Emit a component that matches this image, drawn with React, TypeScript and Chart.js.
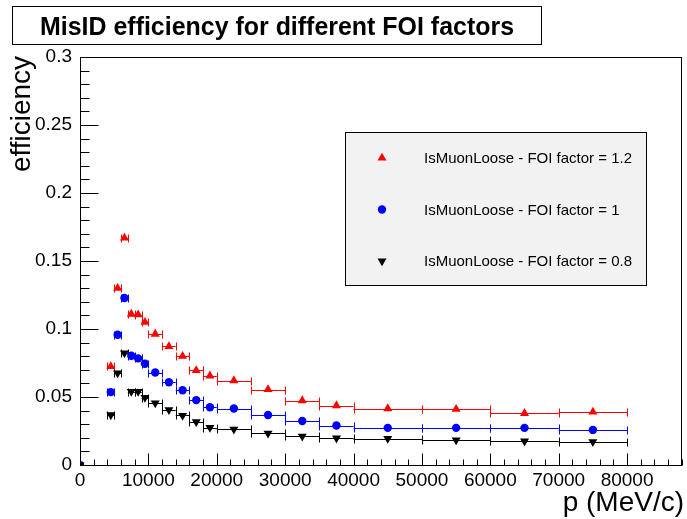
import React, { useEffect, useRef } from "react";
import { Chart, registerables } from "chart.js";

Chart.register(...registerables);

// ---- data ----
const pCenters = [0, 4500, 5500, 6500, 7500, 8500, 9500, 11000, 13000, 15000, 17000, 19000, 22500, 27500, 32500, 37500, 45000, 55000, 65000, 75000];
const pLow = [null, 4000, 5000, 6000, 7000, 8000, 9000, 10000, 12000, 14000, 16000, 18000, 20000, 25000, 30000, 35000, 40000, 50000, 60000, 70000];
const pHigh = [null, 5000, 6000, 7000, 8000, 9000, 10000, 12000, 14000, 16000, 18000, 20000, 25000, 30000, 35000, 40000, 50000, 60000, 70000, 80000];

const effFoi12 = [0, 0.0725, 0.130, 0.167, 0.111, 0.1105, 0.105, 0.0963, 0.0872, 0.0800, 0.0695, 0.0656, 0.0621, 0.0555, 0.0474, 0.0437, 0.0415, 0.041, 0.038, 0.039];
const effFoi10 = [0, 0.0536, 0.0958, 0.1228, 0.0803, 0.0784, 0.0744, 0.068, 0.0609, 0.055, 0.0477, 0.0425, 0.0415, 0.0368, 0.0324, 0.029, 0.0273, 0.0273, 0.0273, 0.0258];
const effFoi08 = [0, 0.0368, 0.0676, 0.0823, 0.054, 0.054, 0.0496, 0.0455, 0.0405, 0.0364, 0.0317, 0.0275, 0.0262, 0.0233, 0.0211, 0.0197, 0.0194, 0.0184, 0.0175, 0.017];

const xTickValues = [0, 10000, 20000, 30000, 40000, 50000, 60000, 70000, 80000];
const xTickLabels = ["0", "10000", "20000", "30000", "40000", "50000", "60000", "70000", "80000"];
const yTickValues = [0, 0.05, 0.1, 0.15, 0.2, 0.25, 0.3];
const yTickLabels = ["0", "0.05", "0.1", "0.15", "0.2", "0.25", "0.3"];

const seriesLabels = ["IsMuonLoose - FOI factor = 1.2", "IsMuonLoose - FOI factor = 1", "IsMuonLoose - FOI factor = 0.8"];
const seriesColors = ["#ff0000", "#0000ff", "#000000"];
const seriesMarkers = ["up", "circle", "down"];

const titleText = "MisID efficiency for different FOI factors";
const xTitle = "p (MeV/c)";
const yTitle = "efficiency";

const FONT = "'Liberation Sans', Arial, Helvetica, sans-serif";
const TRI_R = 5.2;
const CIRC_R = 4.2;

function drawMarker(ctx: CanvasRenderingContext2D, kind: string, x: number, y: number, color: string) {
  ctx.save();
  ctx.fillStyle = color;
  ctx.beginPath();
  if (kind === "circle") {
    ctx.arc(x, y, CIRC_R, 0, Math.PI * 2);
  } else {
    const r = TRI_R;
    const s = kind === "up" ? 1 : -1;
    ctx.moveTo(x, y - s * r);
    ctx.lineTo(x + r * 0.866, y + s * r * 0.5);
    ctx.lineTo(x - r * 0.866, y + s * r * 0.5);
    ctx.closePath();
  }
  ctx.fill();
  ctx.restore();
}

const rootPlugin = {
  id: "rootStyle",
  beforeDatasetsDraw(chart: any) {
    const ctx = chart.ctx as CanvasRenderingContext2D;
    const xs = chart.scales.x;
    const ys = chart.scales.y;
    const sets = [effFoi12, effFoi10, effFoi08];
    ctx.save();
    ctx.lineWidth = 1;
    sets.forEach((vals, si) => {
      ctx.strokeStyle = seriesColors[si];
      vals.forEach((v, i) => {
        const lo = pLow[i];
        const hi = pHigh[i];
        if (lo === null || hi === null) return;
        const x1 = xs.getPixelForValue(lo);
        const x2 = xs.getPixelForValue(hi);
        const y = Math.round(ys.getPixelForValue(v)) + 0.5;
        ctx.beginPath();
        ctx.moveTo(x1, y);
        ctx.lineTo(x2, y);
        ctx.moveTo(Math.round(x1) + 0.5, y - 4);
        ctx.lineTo(Math.round(x1) + 0.5, y + 4);
        ctx.moveTo(Math.round(x2) + 0.5, y - 4);
        ctx.lineTo(Math.round(x2) + 0.5, y + 4);
        ctx.stroke();
      });
    });
    ctx.restore();
  },
  afterDraw(chart: any) {
    const ctx = chart.ctx as CanvasRenderingContext2D;
    const a = chart.chartArea;
    const xs = chart.scales.x;
    const ys = chart.scales.y;
    ctx.save();
    ctx.strokeStyle = "#000";
    ctx.lineWidth = 1;
    // frame
    const L = Math.round(a.left) + 0.5;
    const R = Math.round(a.right) - 0.5;
    const T = Math.round(a.top) + 0.5;
    const B = Math.round(a.bottom) + 0.5;
    ctx.strokeRect(L, T, R - L, B - T);
    // y ticks
    ctx.beginPath();
    for (let k = 0; k <= 30; k++) {
      const v = k * 0.01;
      const y = Math.round(ys.getPixelForValue(v)) + 0.5;
      const len = k % 5 === 0 ? 18 : 9;
      ctx.moveTo(L, y);
      ctx.lineTo(L + len, y);
    }
    // x ticks
    for (let k = 0; k <= 44; k++) {
      const v = k * 2000;
      const x = Math.round(xs.getPixelForValue(v)) + 0.5;
      const len = k % 5 === 0 ? 12 : 6;
      ctx.moveTo(x, B);
      ctx.lineTo(x, B - len);
    }
    ctx.stroke();

    // title box
    ctx.fillStyle = "#fff";
    ctx.fillRect(12.5, 6.5, 529, 38);
    ctx.strokeRect(12.5, 6.5, 529, 38);
    ctx.fillStyle = "#000";
    ctx.font = `bold 26px ${FONT}`;
    ctx.textAlign = "center";
    ctx.textBaseline = "alphabetic";
    ctx.fillText(titleText, 277, 35, 474);

    // axis titles
    ctx.font = `28px ${FONT}`;
    ctx.textAlign = "right";
    ctx.fillText(xTitle, 684, 511, 122);
    ctx.save();
    ctx.translate(30, 56);
    ctx.rotate(-Math.PI / 2);
    ctx.fillText(yTitle, 0, 0, 116);
    ctx.restore();

    // legend
    ctx.fillStyle = "#f2f2f2";
    ctx.fillRect(345.5, 132.5, 301, 153);
    ctx.strokeStyle = "#000";
    ctx.strokeRect(345.5, 132.5, 301, 153);
    const rowY = [158, 209.5, 261];
    ctx.font = `15px ${FONT}`;
    ctx.textAlign = "left";
    ctx.textBaseline = "middle";
    seriesLabels.forEach((lab, i) => {
      drawMarker(ctx, seriesMarkers[i], 382, rowY[i], seriesColors[i]);
      ctx.fillStyle = "#000";
      ctx.fillText(lab, 424, rowY[i] + 1);
    });
    ctx.restore();
  },
};

export default function App() {
  const ref = useRef<HTMLCanvasElement | null>(null);
  useEffect(() => {
    if (!ref.current) return;
    const mk = (vals: number[]) => pCenters.map((p, i) => ({ x: p, y: vals[i] }));
    const chart = new Chart(ref.current, {
      type: "scatter",
      data: {
        datasets: [
          {
            label: seriesLabels[0], data: mk(effFoi12), order: 3,
            backgroundColor: seriesColors[0], borderColor: seriesColors[0], borderWidth: 0,
            pointStyle: "triangle", pointRadius: TRI_R, pointRotation: 0,
          },
          {
            label: seriesLabels[1], data: mk(effFoi10), order: 2,
            backgroundColor: seriesColors[1], borderColor: seriesColors[1], borderWidth: 0,
            pointStyle: "circle", pointRadius: CIRC_R,
          },
          {
            label: seriesLabels[2], data: mk(effFoi08), order: 1,
            backgroundColor: seriesColors[2], borderColor: seriesColors[2], borderWidth: 0,
            pointStyle: "triangle", pointRadius: TRI_R, pointRotation: 180,
          },
        ],
      },
      options: {
        responsive: false,
        animation: false,
        events: [],
        layout: { padding: { top: 57, right: 1, left: 0, bottom: 0 } },
        plugins: { legend: { display: false }, tooltip: { enabled: false }, title: { display: false } },
        scales: {
          x: {
            type: "linear", min: 0, max: 88000,
            grid: { display: false, drawTicks: false }, border: { display: false },
            ticks: {
              autoSkip: false, maxRotation: 0, minRotation: 0, padding: 4, color: "#000",
              font: { family: FONT, size: 19 },
              callback: (v: any, i: number) => xTickLabels[i] ?? "",
            },
            afterBuildTicks: (s: any) => { s.ticks = xTickValues.map((v) => ({ value: v })); },
            afterFit: (s: any) => { s.height = 54; },
          },
          y: {
            type: "linear", min: 0, max: 0.3,
            grid: { display: false, drawTicks: false }, border: { display: false },
            ticks: {
              autoSkip: false, padding: 8, color: "#000",
              font: { family: FONT, size: 19 },
              callback: (v: any, i: number) => yTickLabels[i] ?? "",
            },
            afterBuildTicks: (s: any) => { s.ticks = yTickValues.map((v) => ({ value: v })); },
            afterFit: (s: any) => { s.width = 80; },
          },
        },
      },
      plugins: [rootPlugin],
    });
    return () => chart.destroy();
  }, []);
  return (
    <div style={{ position: "absolute", left: 0, top: 0, width: 687, height: 519, background: "#fff" }}>
      <canvas ref={ref} width={687} height={519} style={{ display: "block" }} />
    </div>
  );
}
